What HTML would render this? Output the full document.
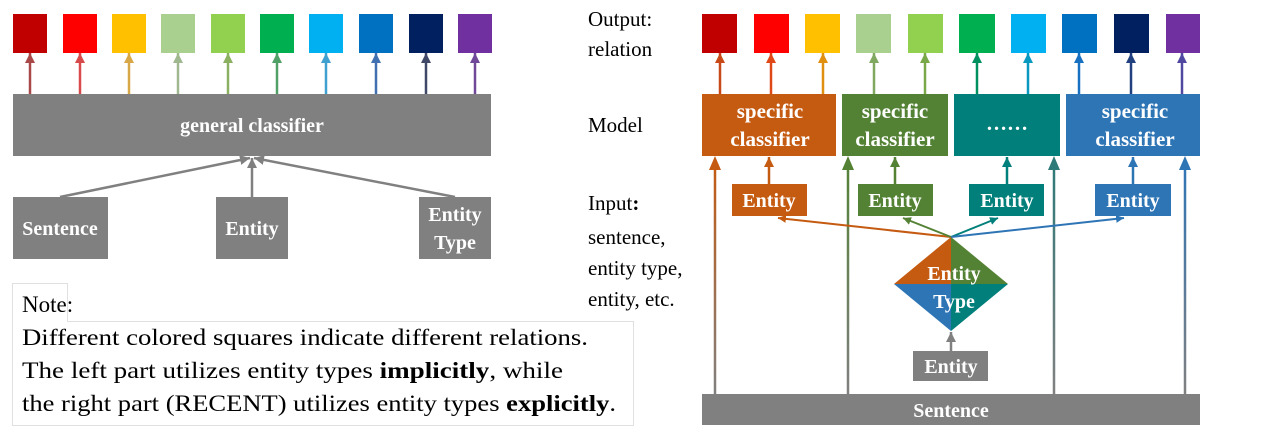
<!DOCTYPE html>
<html><head><meta charset="utf-8"><style>
html,body{margin:0;padding:0;background:#fff;}
svg{display:block;}
text{font-family:"Liberation Serif",serif;}
.w{fill:#fff;font-weight:bold;text-anchor:middle;font-size:20px;}
.s{font-size:21px;}
.b{fill:#000;font-size:21px;}
.n{fill:#000;font-size:23px;}
</style></head><body>
<svg width="1266" height="435" viewBox="0 0 1266 435" xmlns="http://www.w3.org/2000/svg">
<defs>
<marker id="ah" viewBox="0 0 10 10" refX="10" refY="5" markerWidth="4" markerHeight="4" orient="auto" markerUnits="strokeWidth"><path d="M0,0 L10,5 L0,10 z" fill="context-stroke"/></marker>
<linearGradient id="g1" gradientUnits="userSpaceOnUse" x1="0" y1="394" x2="0" y2="160"><stop offset="0" stop-color="#808080"/><stop offset="1" stop-color="#c55a11"/></linearGradient>
<linearGradient id="g2" gradientUnits="userSpaceOnUse" x1="0" y1="394" x2="0" y2="160"><stop offset="0" stop-color="#808080"/><stop offset="1" stop-color="#548235"/></linearGradient>
<linearGradient id="g3" gradientUnits="userSpaceOnUse" x1="0" y1="394" x2="0" y2="160"><stop offset="0" stop-color="#808080"/><stop offset="1" stop-color="#2e7a78"/></linearGradient>
<linearGradient id="g4" gradientUnits="userSpaceOnUse" x1="0" y1="394" x2="0" y2="160"><stop offset="0" stop-color="#808080"/><stop offset="1" stop-color="#2e75b6"/></linearGradient>
</defs>
<g>
<rect x="13" y="14" width="34" height="39" fill="#c00000"/>
<rect x="63" y="14" width="34" height="39" fill="#ff0000"/>
<rect x="112" y="14" width="34" height="39" fill="#ffc000"/>
<rect x="161" y="14" width="34" height="39" fill="#a9d08e"/>
<rect x="211" y="14" width="34" height="39" fill="#92d050"/>
<rect x="260" y="14" width="34" height="39" fill="#00b050"/>
<rect x="309" y="14" width="34" height="39" fill="#00b0f0"/>
<rect x="359" y="14" width="34" height="39" fill="#0070c0"/>
<rect x="409" y="14" width="34" height="39" fill="#002060"/>
<rect x="458" y="14" width="34" height="39" fill="#7030a0"/>
</g>
<g stroke-width="2.5">
<line x1="30" y1="94" x2="30" y2="53" stroke="#a84848" marker-end="url(#ah)"/>
<line x1="80" y1="94" x2="80" y2="53" stroke="#d84a4a" marker-end="url(#ah)"/>
<line x1="129" y1="94" x2="129" y2="53" stroke="#d8a848" marker-end="url(#ah)"/>
<line x1="178" y1="94" x2="178" y2="53" stroke="#a0b890" marker-end="url(#ah)"/>
<line x1="228" y1="94" x2="228" y2="53" stroke="#8ab060" marker-end="url(#ah)"/>
<line x1="277" y1="94" x2="277" y2="53" stroke="#50a068" marker-end="url(#ah)"/>
<line x1="326" y1="94" x2="326" y2="53" stroke="#40a0d0" marker-end="url(#ah)"/>
<line x1="376" y1="94" x2="376" y2="53" stroke="#4070b0" marker-end="url(#ah)"/>
<line x1="426" y1="94" x2="426" y2="53" stroke="#404868" marker-end="url(#ah)"/>
<line x1="475" y1="94" x2="475" y2="53" stroke="#704898" marker-end="url(#ah)"/>
</g>
<rect x="13" y="94" width="478" height="62" fill="#808080"/>
<text x="252" y="132" class="w">general classifier</text>
<g stroke="#808080" stroke-width="2.5">
<line x1="60" y1="197" x2="250" y2="158" marker-end="url(#ah)"/>
<line x1="252" y1="197" x2="252" y2="158" marker-end="url(#ah)"/>
<line x1="455" y1="197" x2="254" y2="158" marker-end="url(#ah)"/>
</g>
<rect x="13" y="197" width="95" height="62" fill="#808080"/>
<text x="60" y="235" class="w">Sentence</text>
<rect x="216" y="197" width="72" height="62" fill="#808080"/>
<text x="252" y="235" class="w">Entity</text>
<rect x="419" y="197" width="72" height="62" fill="#808080"/>
<text x="455" y="221" class="w">Entity</text>
<text x="455" y="249" class="w">Type</text>
<rect x="12.5" y="283.5" width="55" height="38" fill="#fff" stroke="#e0e0e0"/>
<rect x="12.5" y="321.5" width="621" height="104" fill="#fff" stroke="#e0e0e0"/>
<line x1="13" y1="321.5" x2="67" y2="321.5" stroke="#fff" stroke-width="1.5"/>
<text x="22" y="312" class="n">Note:</text>
<text x="22" y="345" class="n" textLength="566" lengthAdjust="spacingAndGlyphs">Different colored squares indicate different relations.</text>
<text x="22" y="378" class="n" textLength="541" lengthAdjust="spacingAndGlyphs">The left part utilizes entity types <tspan font-weight="bold">implicitly</tspan>, while</text>
<text x="22" y="411" class="n" textLength="594" lengthAdjust="spacingAndGlyphs">the right part (RECENT) utilizes entity types <tspan font-weight="bold">explicitly</tspan>.</text>
<text x="588" y="26" class="b">Output:</text>
<text x="588" y="56" class="b">relation</text>
<text x="588" y="132" class="b">Model</text>
<text x="588" y="210" class="b">Input<tspan font-weight="bold">:</tspan></text>
<text x="588" y="244" class="b">sentence,</text>
<text x="588" y="275" class="b">entity type,</text>
<text x="588" y="306" class="b">entity, etc.</text>
<g>
<rect x="702" y="14" width="35" height="39" fill="#c00000"/>
<rect x="754" y="14" width="35" height="39" fill="#ff0000"/>
<rect x="805" y="14" width="35" height="39" fill="#ffc000"/>
<rect x="856" y="14" width="35" height="39" fill="#a9d08e"/>
<rect x="908" y="14" width="35" height="39" fill="#92d050"/>
<rect x="959" y="14" width="36" height="39" fill="#00b050"/>
<rect x="1011" y="14" width="35" height="39" fill="#00b0f0"/>
<rect x="1062" y="14" width="35" height="39" fill="#0070c0"/>
<rect x="1114" y="14" width="35" height="39" fill="#002060"/>
<rect x="1166" y="14" width="34" height="39" fill="#7030a0"/>
</g>
<g stroke-width="2.5">
<line x1="720" y1="94" x2="720" y2="53" stroke="#c84818" marker-end="url(#ah)"/>
<line x1="771" y1="94" x2="771" y2="53" stroke="#e04818" marker-end="url(#ah)"/>
<line x1="823" y1="94" x2="823" y2="53" stroke="#e09010" marker-end="url(#ah)"/>
<line x1="874" y1="94" x2="874" y2="53" stroke="#80a860" marker-end="url(#ah)"/>
<line x1="925" y1="94" x2="925" y2="53" stroke="#78a848" marker-end="url(#ah)"/>
<line x1="977" y1="94" x2="977" y2="53" stroke="#009060" marker-end="url(#ah)"/>
<line x1="1028" y1="94" x2="1028" y2="53" stroke="#0898c0" marker-end="url(#ah)"/>
<line x1="1079" y1="94" x2="1079" y2="53" stroke="#1870c0" marker-end="url(#ah)"/>
<line x1="1131" y1="94" x2="1131" y2="53" stroke="#204080" marker-end="url(#ah)"/>
<line x1="1182" y1="94" x2="1182" y2="53" stroke="#5048a0" marker-end="url(#ah)"/>
</g>
<rect x="702" y="94" width="134" height="62" fill="#c55a11"/>
<text x="770" y="118" class="w s">specific</text><text x="770" y="146" class="w s">classifier</text>
<rect x="842" y="94" width="106" height="62" fill="#548235"/>
<text x="895" y="118" class="w s">specific</text><text x="895" y="146" class="w s">classifier</text>
<rect x="954" y="94" width="106" height="62" fill="#007f7b"/>
<text x="1007" y="130" class="w s">……</text>
<rect x="1066" y="94" width="134" height="62" fill="#2e75b6"/>
<text x="1135" y="118" class="w s">specific</text><text x="1135" y="146" class="w s">classifier</text>
<g stroke-width="2.5">
<line x1="769" y1="184" x2="769" y2="157" stroke="#c55a11" marker-end="url(#ah)"/>
<line x1="895" y1="184" x2="895" y2="157" stroke="#548235" marker-end="url(#ah)"/>
<line x1="1007" y1="184" x2="1007" y2="157" stroke="#007f7b" marker-end="url(#ah)"/>
<line x1="1133" y1="184" x2="1133" y2="157" stroke="#2e75b6" marker-end="url(#ah)"/>
</g>
<line x1="715" y1="394" x2="715" y2="168" stroke="url(#g1)" stroke-width="2.5"/>
<path d="M709,170 L715,156 L721,170 z" fill="#c55a11"/>
<line x1="848" y1="394" x2="848" y2="168" stroke="url(#g2)" stroke-width="2.5"/>
<path d="M842,170 L848,156 L854,170 z" fill="#548235"/>
<line x1="1054" y1="394" x2="1054" y2="168" stroke="url(#g3)" stroke-width="2.5"/>
<path d="M1048,170 L1054,156 L1060,170 z" fill="#2e7a78"/>
<line x1="1185" y1="394" x2="1185" y2="168" stroke="url(#g4)" stroke-width="2.5"/>
<path d="M1179,170 L1185,156 L1191,170 z" fill="#2e75b6"/>
<rect x="732" y="184" width="75" height="32" fill="#c55a11"/><text x="769" y="207" class="w">Entity</text>
<rect x="858" y="184" width="75" height="32" fill="#548235"/><text x="895" y="207" class="w">Entity</text>
<rect x="969" y="184" width="75" height="32" fill="#007f7b"/><text x="1007" y="207" class="w">Entity</text>
<rect x="1095" y="184" width="76" height="32" fill="#2e75b6"/><text x="1133" y="207" class="w">Entity</text>
<g stroke-width="2">
<line x1="951" y1="237" x2="778" y2="218" stroke="#c55a11" marker-end="url(#ah)"/>
<line x1="951" y1="237" x2="903" y2="218" stroke="#548235" marker-end="url(#ah)"/>
<line x1="951" y1="237" x2="998" y2="218" stroke="#007f7b" marker-end="url(#ah)"/>
<line x1="951" y1="237" x2="1124" y2="218" stroke="#2e75b6" marker-end="url(#ah)"/>
</g>
<path d="M951,237 L894,284 L951,284 z" fill="#c55a11"/>
<path d="M951,237 L1008,284 L951,284 z" fill="#548235"/>
<path d="M894,284 L951,331 L951,284 z" fill="#2e75b6"/>
<path d="M1008,284 L951,331 L951,284 z" fill="#007f7b"/>
<text x="954" y="280" class="w">Entity</text>
<text x="954" y="308" class="w">Type</text>
<line x1="951" y1="351" x2="951" y2="332" stroke="#808080" stroke-width="2.5" marker-end="url(#ah)"/>
<rect x="913" y="351" width="75" height="30" fill="#808080"/><text x="951" y="373" class="w">Entity</text>
<rect x="702" y="394" width="498" height="31" fill="#808080"/><text x="951" y="417" class="w">Sentence</text>
</svg>
</body></html>
